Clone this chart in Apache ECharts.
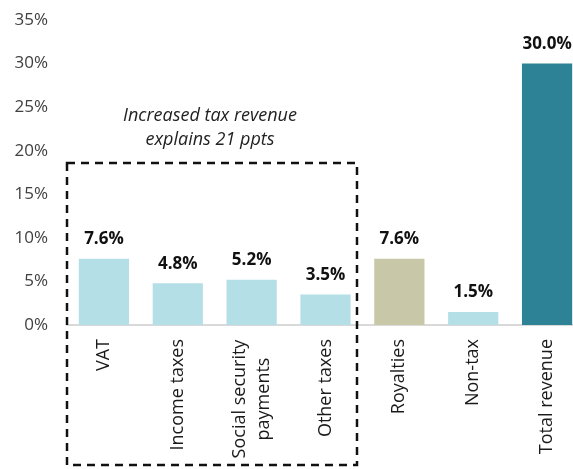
<!DOCTYPE html>
<html>
<head>
<meta charset="utf-8">
<script src="https://cdn.jsdelivr.net/npm/echarts@6/dist/echarts.min.js"></script>
<style>
  html, body { margin: 0; padding: 0; background: #fff; }
  #chart { width: 573px; height: 469px; }
</style>
</head>
<body>
<div id="chart"></div>
<script>
// data
const categories = ["VAT", "Income taxes", "Social security\npayments", "Other taxes", "Royalties", "Non-tax", "Total revenue"];
const values = [7.6, 4.8, 5.2, 3.5, 7.6, 1.5, 30.0];
const barColors = ["#b4dfe6", "#b4dfe6", "#b4dfe6", "#b4dfe6", "#c8c8a8", "#b4dfe6", "#2e8295"];
const yTicks = [0, 5, 10, 15, 20, 25, 30, 35];

const font = "'Open Sans', 'Noto Sans', sans-serif";

const myChart = echarts.init(document.getElementById("chart"));

let option = {
  animation: false,
  textStyle: { fontFamily: font },
  grid: {
    left: 67,
    width: 517, // last bar is cut by the canvas edge in the original
    top: 20,
    bottom: 144,
    outerBoundsMode: "none",
    containLabel: false,
  },
  xAxis: {
    type: "category",
    data: categories,
    axisLine: { lineStyle: { color: "#d9d9d9", width: 2 } },
    axisTick: { show: false },
    axisLabel: {
      rotate: 90,
      interval: 0,
      margin: 14,
      color: "#1a1a1a",
      fontSize: 18,
      fontFamily: font,
      // two-line labels: centre the lines on each other
      formatter: (v) => {
        const lines = v.split("\n");
        if (lines.length === 1) return v;
        return lines.map((s) => "{m|" + s + "}").join("\n");
      },
      rich: {
        m: { width: 120, align: "center", fontSize: 18, fontFamily: font, color: "#1a1a1a", lineHeight: 24 },
      },
    },
  },
  yAxis: {
    type: "value",
    min: yTicks[0],
    max: yTicks[yTicks.length - 1],
    interval: 5,
    splitLine: { show: false },
    axisLine: { show: false },
    axisTick: { show: false },
    axisLabel: {
      formatter: "{value}%",
      color: "#404040",
      fontSize: 17,
      fontFamily: font,
      margin: 19,
    },
  },
  series: [
    {
      type: "bar",
      barWidth: "68%",
      data: values.map((v, i) => ({ value: v, itemStyle: { color: barColors[i] } })),
      label: {
        show: true,
        position: "top",
        distance: 11,
        formatter: (p) => p.value.toFixed(1) + "%",
        color: "#111",
        fontWeight: "bold",
        fontSize: 17,
        fontFamily: font,
      },
    },
  ],
  graphic: [
    {
      type: "rect",
      shape: { x: 67, y: 163, width: 290, height: 302 },
      style: { fill: "none", stroke: "#111", lineWidth: 2.5, lineDash: [8, 6] },
      z: 10,
    },
    {
      type: "text",
      x: 210,
      y: 128,
      style: {
        text: "Increased tax revenue\nexplains 21 ppts",
        align: "center",
        verticalAlign: "middle",
        fill: "#222",
        font: "italic 18px " + font,
        lineHeight: 24,
      },
    },
  ],
};
myChart.setOption(option);
</script>
</body>
</html>
